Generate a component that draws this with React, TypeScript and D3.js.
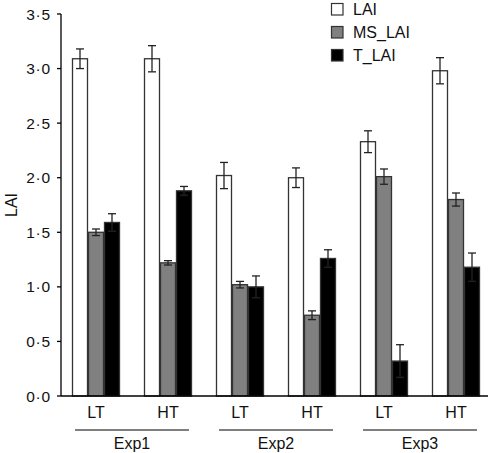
import React from "react";
import * as d3 from "d3";

const groups = ["Exp1-LT", "Exp1-HT", "Exp2-LT", "Exp2-HT", "Exp3-LT", "Exp3-HT"];
const groupLabels = ["LT", "HT", "LT", "HT", "LT", "HT"];
const experiments = ["Exp1", "Exp2", "Exp3"];
const seriesNames = ["LAI", "MS_LAI", "T_LAI"];
const laiValues = [3.09, 3.09, 2.02, 2.0, 2.33, 2.98];
const laiErrors = [0.09, 0.12, 0.12, 0.09, 0.1, 0.12];
const msValues = [1.5, 1.22, 1.02, 0.74, 2.01, 1.8];
const msErrors = [0.03, 0.02, 0.03, 0.04, 0.07, 0.06];
const tValues = [1.59, 1.88, 1.0, 1.26, 0.32, 1.18];
const tErrors = [0.08, 0.04, 0.1, 0.08, 0.15, 0.13];
const yTicks = [0, 0.5, 1.0, 1.5, 2.0, 2.5, 3.0, 3.5];

const fills = ["#ffffff", "#808080", "#000000"];
const FONT = "'Liberation Sans', Arial, Helvetica, sans-serif";

export default function App() {
  const width = 491;
  const height = 453;
  const series = [
    { name: seriesNames[0], values: laiValues, errors: laiErrors },
    { name: seriesNames[1], values: msValues, errors: msErrors },
    { name: seriesNames[2], values: tValues, errors: tErrors },
  ];
  const x0 = d3.scaleBand<string>().domain(groups).range([60, 492]).padding(0);
  const x1 = d3
    .scaleBand<string>()
    .domain(seriesNames)
    .range([12, 60])
    .padding(0);
  const y = d3.scaleLinear().domain([0, 3.5]).range([396, 14]);
  const axisX = 61;
  const fmt = (v: number) => v.toFixed(1).replace(".", "·");

  return (
    <div style={{ position: "absolute", left: 0, top: 0 }}>
      <svg width={width} height={height} style={{ display: "block" }} fontFamily={FONT}>
        <rect x={0} y={0} width={width} height={height} fill="#fff" />
        {series.map((s, si) =>
          s.values.map((v, gi) => {
            const bx = (x0(groups[gi]) as number) + (x1(s.name) as number);
            const bw = x1.bandwidth();
            const cx = bx + bw / 2;
            const top = y(s.errors[gi] + v);
            const bot = y(v - s.errors[gi]);
            return (
              <g key={`${si}-${gi}`}>
                <rect
                  x={bx + 0.5}
                  y={y(v)}
                  width={bw - 1}
                  height={y(0) - y(v)}
                  fill={fills[si]}
                  stroke="#333"
                  strokeWidth={1.3}
                />
                <line x1={cx} x2={cx} y1={top} y2={bot} stroke="#222" strokeWidth={1.3} />
                <line x1={cx - 4} x2={cx + 4} y1={top} y2={top} stroke="#222" strokeWidth={1.3} />
                <line x1={cx - 4} x2={cx + 4} y1={bot} y2={bot} stroke="#222" strokeWidth={1.3} />
              </g>
            );
          })
        )}
        {/* axes */}
        <line x1={axisX} x2={axisX} y1={y(3.5)} y2={y(0)} stroke="#000" strokeWidth={1.3} />
        <line x1={axisX} x2={488} y1={y(0)} y2={y(0)} stroke="#000" strokeWidth={1.3} />
        {yTicks.map((t) => (
          <g key={t}>
            <line x1={axisX - 4} x2={axisX} y1={y(t)} y2={y(t)} stroke="#000" strokeWidth={1.3} />
            <text
              x={51}
              y={y(t)}
              dy="0.36em"
              textAnchor="end"
              fontSize={15.5}
              letterSpacing={0.8}
              fill="#111"
            >
              {fmt(t)}
            </text>
          </g>
        ))}
        <text
          transform={`translate(17,${(y(0) + y(3.5)) / 2}) rotate(-90)`}
          textAnchor="middle"
          fontSize={16}
          fill="#111"
        >
          LAI
        </text>
        {groups.map((g, gi) => (
          <text
            key={g}
            x={(x0(g) as number) + 36}
            y={418}
            textAnchor="middle"
            fontSize={16}
            fill="#111"
          >
            {groupLabels[gi]}
          </text>
        ))}
        {experiments.map((e, ei) => {
          const a = (x0(groups[ei * 2]) as number) + 36;
          const b = (x0(groups[ei * 2 + 1]) as number) + 36;
          const c = (a + b) / 2;
          return (
            <g key={e}>
              <line x1={c - 57} x2={c + 57} y1={430} y2={430} stroke="#000" strokeWidth={1.2} />
              <text x={c} y={449} textAnchor="middle" fontSize={16} fill="#111">
                {e}
              </text>
            </g>
          );
        })}
        {/* legend */}
        {seriesNames.map((n, i) => (
          <g key={n} transform={`translate(331,${3 + i * 23})`}>
            <rect x={0.5} y={0.5} width={11.5} height={11.5} fill={fills[i]} stroke="#333" strokeWidth={1.2} />
            <text x={22} y={12} fontSize={16} fill="#111">
              {n}
            </text>
          </g>
        ))}
      </svg>
    </div>
  );
}
